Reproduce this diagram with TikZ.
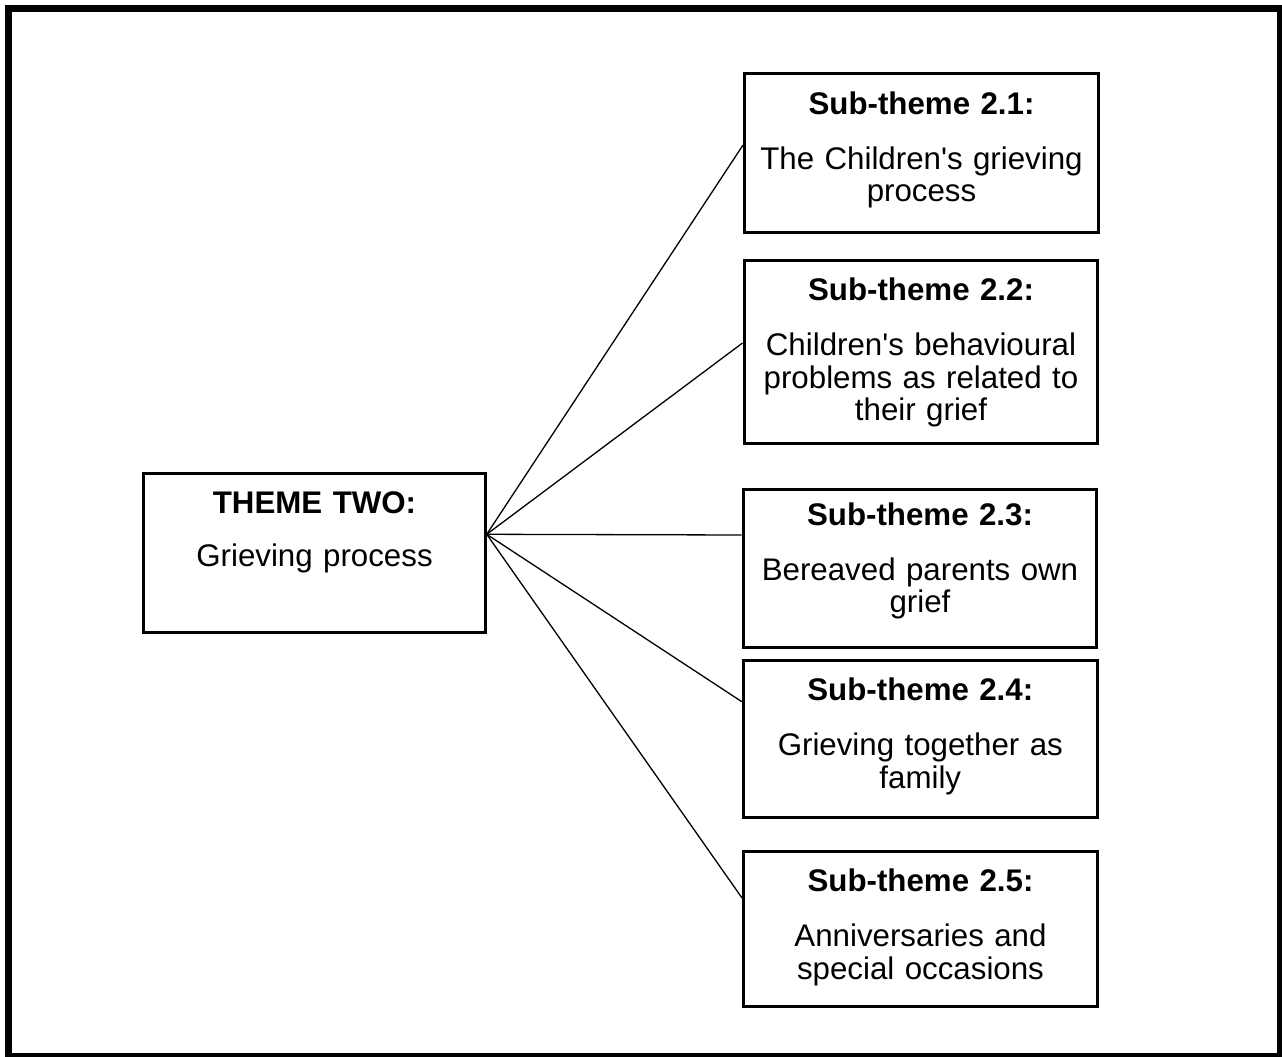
\documentclass[tikz,border=0pt]{standalone}
\usepackage{fontspec}
\setmainfont{Liberation Sans}
\usetikzlibrary{calc}
\tikzset{
	every node/.style={
		font=\fontsize{17.8}{18.6}\selectfont
	},
	theme/.style={
		shape=rectangle,
		draw,
		line width=0.06cm,
		minimum width=6.83cm,
		minimum height=3.2cm,
	},
	subtheme/.style={
		shape=rectangle,
		draw,
		line width=0.06cm,
		minimum width=7.08cm,
	},
	boxtext/.style={
		anchor=north,
		yshift=-0.27cm,
		align=center,
		text width=6.9cm
	},
	link/.style={line width=0.026cm},
	frame/.style={line width=0.14cm},
}

\begin{document}
\begin{tikzpicture}[x=0.02cm, y=-0.02cm]

	\useasboundingbox (0,0) rectangle (1282,1057);
	\draw[frame] (8.5,8.5) rectangle (1280.3,1056.8);

	% main theme
	\node[theme, label={[boxtext, text width=6.5cm]north:{\textbf{THEME TWO:}\\[0.42cm]Grieving process}}] (t2) at (314.5,553) {};

	% sub-themes
	\node[subtheme, minimum height=3.17cm, label={[boxtext]north:{\textbf{Sub-theme 2.1:}\\[0.44cm]The Children\textquotesingle s grieving\\process}}] (s21) at (921.5,152.9) {};
	\node[subtheme, minimum height=3.67cm, label={[boxtext]north:{\textbf{Sub-theme 2.2:}\\[0.44cm]Children\textquotesingle s behavioural\\problems as related to\\their grief}}] (s22) at (921,351.8) {};
	\node[subtheme, minimum height=3.15cm, label={[boxtext, yshift=0.1cm]north:{\textbf{Sub-theme 2.3:}\\[0.44cm]Bereaved parents own\\grief}}] (s23) at (920,568.3) {};
	\node[subtheme, minimum height=3.16cm, label={[boxtext]north:{\textbf{Sub-theme 2.4:}\\[0.44cm]Grieving together as\\family}}] (s24) at (920.3,739) {};
	\node[subtheme, minimum height=3.12cm, label={[boxtext]north:{\textbf{Sub-theme 2.5:}\\[0.44cm]Anniversaries and\\special occasions}}] (s25) at (920.5,929) {};

	\coordinate (hub) at (t2.east |- 0,534.3);

	\draw[link] (hub) -- (s21.west |- 0,145);
	\draw[link] (hub) -- (s22.west |- 0,343);
	\draw[link] (hub) -- (s23.west |- 0,535);
	\draw[link] (hub) -- (s24.west |- 0,701.7);
	\draw[link] (hub) -- (s25.west |- 0,898);

\end{tikzpicture}
\end{document}
